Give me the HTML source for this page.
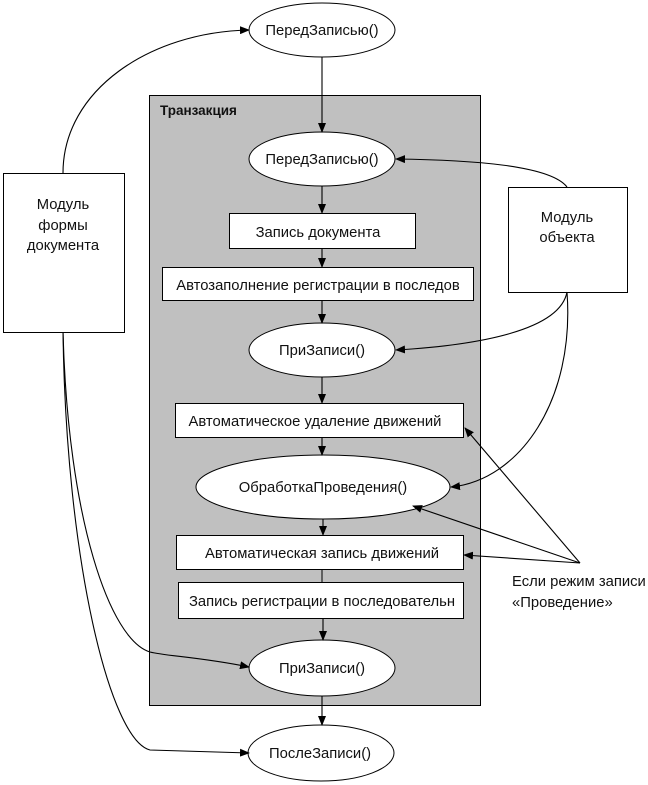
<!DOCTYPE html>
<html><head><meta charset="utf-8"><style>
html,body{margin:0;padding:0;background:#fff;}
svg{display:block;}
text{font-family:"Liberation Sans","DejaVu Sans",sans-serif;font-size:14.8px;fill:#111;}
</style></head><body>
<svg width="648" height="785" viewBox="0 0 648 785" xmlns="http://www.w3.org/2000/svg">
<defs><marker id="a" markerWidth="10" markerHeight="8" refX="9" refY="4" orient="auto" markerUnits="userSpaceOnUse"><path d="M0,0 L10,4 L0,8 z" fill="#000"/></marker></defs>
<rect x="149.5" y="95.5" width="331" height="610" fill="#c0c0c0" stroke="#000"/>
<text x="160" y="115" style="font-weight:bold;font-size:13.5px">Транзакция</text>
<g stroke="#000" fill="#fff">
<ellipse cx="322" cy="30" rx="73" ry="27"/>
<ellipse cx="322" cy="159" rx="73" ry="27"/>
<rect x="229.5" y="213.5" width="186" height="35"/>
<rect x="162.5" y="267.5" width="311" height="33"/>
<ellipse cx="322" cy="350" rx="73" ry="27"/>
<rect x="175.5" y="403.5" width="288" height="34"/>
<ellipse cx="323" cy="487" rx="127" ry="32"/>
<rect x="176.5" y="535.5" width="287" height="34"/>
<rect x="178.5" y="582.5" width="285" height="36"/>
<ellipse cx="322" cy="668" rx="73" ry="28"/>
<ellipse cx="321" cy="753" rx="73" ry="28"/>
<rect x="3.5" y="173.5" width="121" height="159"/>
<rect x="508.5" y="187.5" width="119" height="105"/>
</g>
<g text-anchor="middle">
<text x="322" y="35">ПередЗаписью()</text>
<text x="322" y="164">ПередЗаписью()</text>
<text x="318" y="237">Запись документа</text>
<text x="318" y="290">Автозаполнение регистрации в последов</text>
<text x="322" y="355">ПриЗаписи()</text>
<text x="315" y="426">Автоматическое удаление движений</text>
<text x="323" y="492">ОбработкаПроведения()</text>
<text x="322" y="558">Автоматическая запись движений</text>
<text x="322" y="606">Запись регистрации в последовательн</text>
<text x="322" y="673">ПриЗаписи()</text>
<text x="320" y="758">ПослеЗаписи()</text>
<text x="63" y="209">Модуль</text>
<text x="63" y="230">формы</text>
<text x="63" y="250">документа</text>
<text x="567" y="222">Модуль</text>
<text x="567" y="242">объекта</text>
</g>
<text x="512" y="586">Если режим записи</text>
<text x="512" y="607">«Проведение»</text>
<g stroke="#000" fill="none" stroke-width="1.1" marker-end="url(#a)">
<path d="M322,57 L322,132"/>
<path d="M322,186 L322,213"/>
<path d="M322,249 L322,267"/>
<path d="M322,301 L322,323"/>
<path d="M322,377 L322,403"/>
<path d="M322,438 L322,455"/>
<path d="M323,519 L323,535"/>
<path d="M323,619 L323,640"/>
<path d="M322,696 L322,725"/>
<path d="M63,173 C63,90 150,32 249,30"/>
<path d="M63,332 C68,520 110,640 150,652 C165,656 200,657 249,667"/>
<path d="M63,332 C66,560 110,740 150,750 L249,753"/>
<path d="M567,187 C550,165 470,160 396,159"/>
<path d="M567,292 C560,330 480,345 396,350"/>
<path d="M567,292 C575,400 520,480 451,487"/>
<path d="M580,563 L465,428"/>
<path d="M580,563 L413,506"/>
<path d="M580,563 L464,555"/>
</g>
<path d="M322,570 L322,582" stroke="#000"/>
</svg>
</body></html>
